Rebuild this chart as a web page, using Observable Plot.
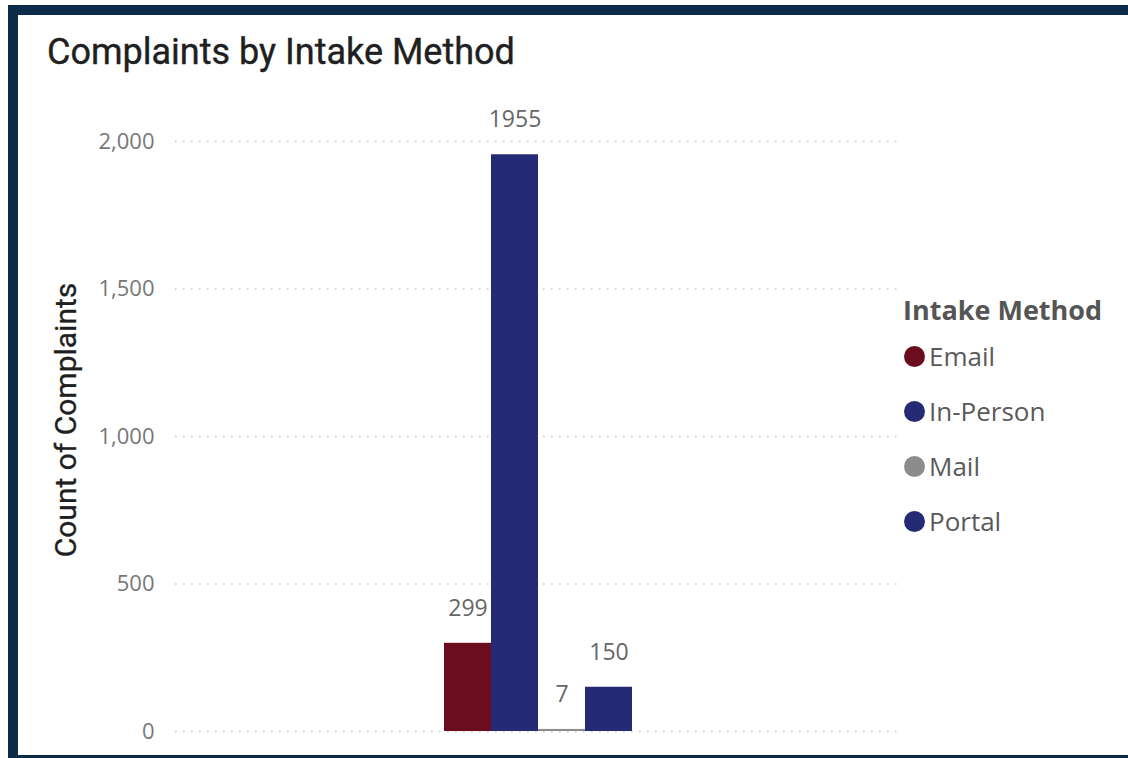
<!DOCTYPE html>
<html>
<head>
<meta charset="utf-8">
<script src="https://cdn.jsdelivr.net/npm/d3@7"></script>
<script src="https://cdn.jsdelivr.net/npm/@observablehq/plot@0.6"></script>
<style>
  html, body { margin: 0; padding: 0; background: #fff; width: 1128px; height: 758px; overflow: hidden; }
  #frame { position: absolute; left: 8px; top: 5px; width: 1150px; height: 760px; box-sizing: border-box; border: 10px solid #0b2b47; background: #fff; }
  #title { position: absolute; left: 47px; top: 31px; font-family: Roboto, sans-serif; font-weight: 400; font-size: 36px; color: #1f1f1f; white-space: nowrap; -webkit-text-stroke: 0.4px #1f1f1f; }
  #ylabel { position: absolute; left: 65px; top: 420px; transform: translate(-50%, -50%) rotate(-90deg); font-family: Roboto, sans-serif; font-weight: 400; font-size: 30px; color: #1f1f1f; white-space: nowrap; -webkit-text-stroke: 0.3px #1f1f1f; }
  #chart { position: absolute; left: 0; top: 0; }
  #legend { position: absolute; left: 903px; top: 291px; font-family: "Segoe UI", "Open Sans", sans-serif; color: #555; }
  #legend .lt { font-weight: bold; font-size: 27px; height: 38px; line-height: 38px; }
  #legend .it { display: flex; align-items: center; font-size: 26px; height: 55px; line-height: 55px; color: #5a5a5a; }
  #legend .sw { width: 21px; height: 21px; border-radius: 50%; margin-right: 4px; margin-left: 1px; }
</style>
</head>
<body>
<div id="frame"></div>
<div id="chart"></div>
<div id="title">Complaints by Intake Method</div>
<div id="ylabel">Count of Complaints</div>
<div id="legend"></div>
<script>
const methods = ["Email", "In-Person", "Mail", "Portal"];
const counts = [299, 1955, 7, 150];
const colors = ["#6b0d1e", "#252a74", "#8c8c8c", "#252a74"];
const yTicks = [0, 500, 1000, 1500, 2000];
const legendTitle = "Intake Method";

const data = methods.map((m, i) => ({method: m, count: counts[i]}));
const fmt = d3.format(",");

const plot = Plot.plot({
  width: 1128,
  height: 758,
  marginLeft: 175,
  marginRight: 228,
  marginTop: 141,
  marginBottom: 27,
  style: {background: "transparent", fontFamily: "'Segoe UI', 'Open Sans', sans-serif", fontSize: "22px", color: "#777"},
  x: {domain: methods, paddingInner: 0, paddingOuter: 5.63, axis: null},
  y: {domain: [0, 2000], ticks: yTicks, tickFormat: d => fmt(d), tickSize: 0, tickPadding: 21, label: null},
  color: {domain: methods, range: colors},
  marks: [
    Plot.ruleY(yTicks, {stroke: "#c8c8c8", strokeDasharray: "1.5,6.5", strokeWidth: 1.5}),
    Plot.barY(data, {x: "method", y: "count", fill: "method", inset: 0}),
    Plot.text(data, {x: "method", y: "count", text: d => String(d.count), dy: -35, fill: "#666", fontSize: 23})
  ]
});
document.getElementById("chart").appendChild(plot);

const lg = document.getElementById("legend");
const t = document.createElement("div");
t.className = "lt"; t.textContent = legendTitle; lg.appendChild(t);
methods.forEach((m, i) => {
  const it = document.createElement("div"); it.className = "it";
  const sw = document.createElement("span"); sw.className = "sw"; sw.style.background = colors[i];
  const tx = document.createElement("span"); tx.textContent = m;
  it.appendChild(sw); it.appendChild(tx); lg.appendChild(it);
});
</script>
</body>
</html>
